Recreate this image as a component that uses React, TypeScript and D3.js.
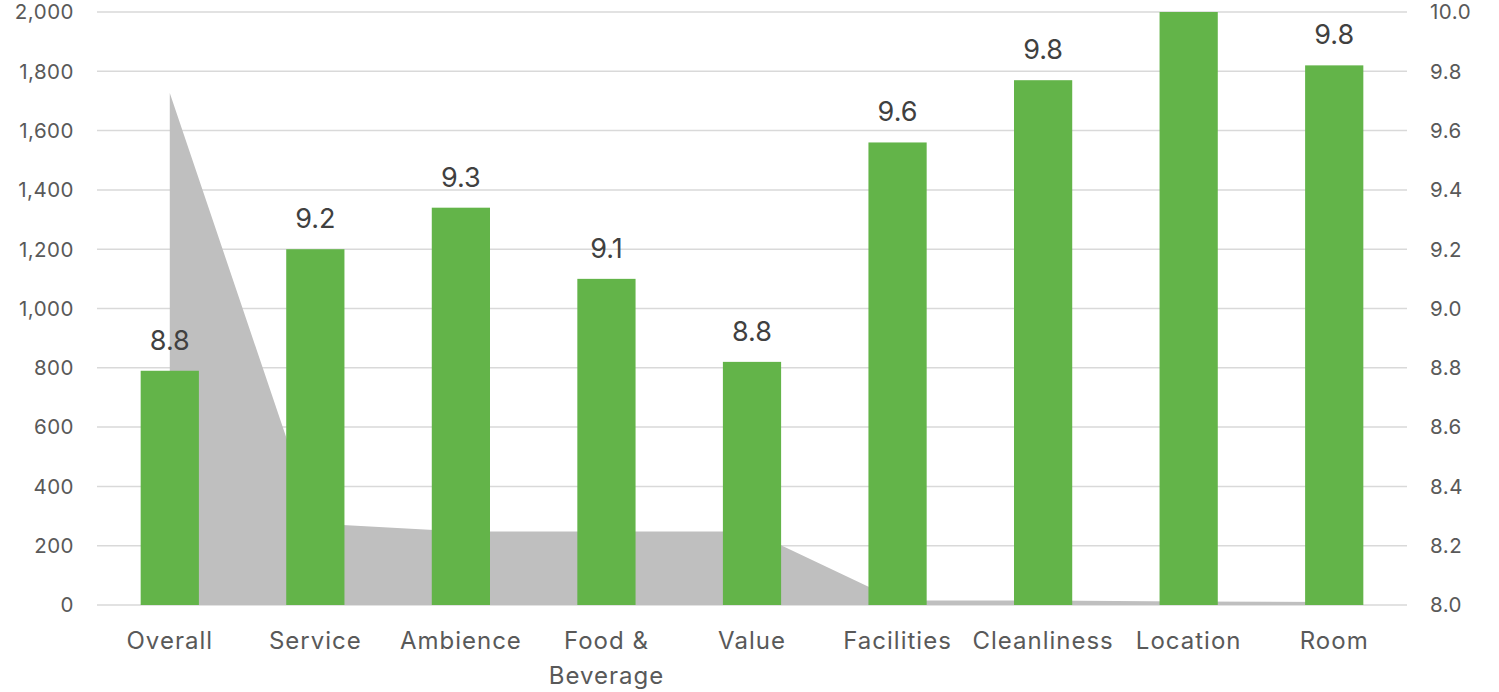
import React from "react";
import * as d3 from "d3";

const categories = ["Overall", "Service", "Ambience", "Food & Beverage", "Value", "Facilities", "Cleanliness", "Location", "Room"];
const scores = [8.79, 9.2, 9.34, 9.1, 8.82, 9.56, 9.77, 10.0, 9.82];
// Location's label sits above the plot in the reference and is not visible there
const scoreLabels = ["8.8", "9.2", "9.3", "9.1", "8.8", "9.6", "9.8", "", "9.8"];
const reviewCounts = [1727, 275, 248, 248, 248, 15, 15, 12, 10];
const leftTicks = [0, 200, 400, 600, 800, 1000, 1200, 1400, 1600, 1800, 2000];
const rightTicks = [8.0, 8.2, 8.4, 8.6, 8.8, 9.0, 9.2, 9.4, 9.6, 9.8, 10.0];

const W = 1499;
const H = 692;
const left = 97;
const right = 1407;
const top = 12;
const bottom = 605;

export default function App() {
  const x = d3.scaleBand<string>().domain(categories).range([left, right]).paddingInner(0.6).paddingOuter(0.3);
  const yL = d3.scaleLinear().domain([0, 2000]).range([bottom, top]);
  const yR = d3.scaleLinear().domain([8, 10]).range([bottom, top]);
  const fmt = d3.format(",");
  const area = d3
    .area<number>()
    .x((_, i) => (x(categories[i]) as number) + x.bandwidth() / 2)
    .y0(yL(0))
    .y1((d) => yL(d));
  const font = "Aptos, Inter, 'Open Sans', 'Noto Sans', sans-serif";

  return (
    <svg width={W} height={H} style={{ position: "absolute", left: 0, top: 0, display: "block" }} fontFamily={font}>
      <rect x={0} y={0} width={W} height={H} fill="#ffffff" />
      {leftTicks.map((t) => (
        <line key={"g" + t} x1={left} x2={right} y1={yL(t)} y2={yL(t)} stroke="#d9d9d9" strokeWidth={1.5} />
      ))}
      <path d={area(reviewCounts) || ""} fill="#bfbfbf" />
      {categories.map((c, i) => (
        <rect key={c} x={x(c)} y={yR(scores[i])} width={x.bandwidth()} height={yR(8) - yR(scores[i])} fill="#63b449" />
      ))}
      {categories.map((c, i) =>
        scoreLabels[i] ? (
          <text key={"l" + c} x={(x(c) as number) + x.bandwidth() / 2} y={yR(scores[i]) - 21} textAnchor="middle" fontSize={27} fill="#404040">
            {scoreLabels[i]}
          </text>
        ) : null
      )}
      {leftTicks.map((t) => (
        <text key={"lt" + t} x={74} y={yL(t)} dy="0.36em" textAnchor="end" fontSize={20.5} letterSpacing={0.5} fill="#595959">
          {fmt(t)}
        </text>
      ))}
      {rightTicks.map((t) => (
        <text key={"rt" + t} x={1430} y={yR(t)} dy="0.36em" textAnchor="start" fontSize={20.5} letterSpacing={0.5} fill="#595959">
          {t.toFixed(1)}
        </text>
      ))}
      {categories.map((c) => {
        const cx = (x(c) as number) + x.bandwidth() / 2;
        const lines = c === "Food & Beverage" ? ["Food &", "Beverage"] : [c];
        return (
          <text key={"c" + c} x={cx} y={649} textAnchor="middle" fontSize={24} letterSpacing={1} fill="#595959">
            {lines.map((ln, k) => (
              <tspan key={k} x={cx} dy={k === 0 ? 0 : 35}>
                {ln}
              </tspan>
            ))}
          </text>
        );
      })}
    </svg>
  );
}
